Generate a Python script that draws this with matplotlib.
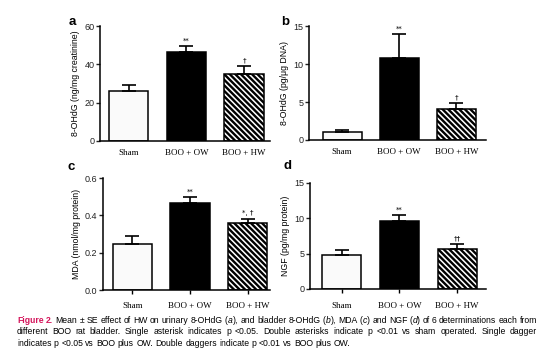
import matplotlib
matplotlib.use('Agg')
import matplotlib.pyplot as plt

# data (mean and SE)
groups = ['Sham', 'BOO + OW', 'BOO + HW']

ohdg_urine = [26.2, 46.6, 35.0]
ohdg_urine_err = [3.0, 3.0, 4.1]
ohdg_urine_sig = ['', '**', '†']

ohdg_bladder = [1.1, 10.8, 4.07]
ohdg_bladder_err = [0.2, 3.2, 0.83]
ohdg_bladder_sig = ['', '**', '†']

mda = [0.244, 0.468, 0.358]
mda_err = [0.044, 0.029, 0.025]
mda_sig = ['', '**', '*, †']

ngf = [4.85, 9.57, 5.66]
ngf_err = [0.61, 0.93, 0.71]
ngf_sig = ['', '**', '††']

W, H = 554, 357
plt.rcParams['font.family'] = ['Liberation Sans', 'DejaVu Sans']
plt.rcParams['hatch.linewidth'] = 1.7

fig = plt.figure(figsize=(W / 100, H / 100), dpi=100)


def px_axes(l, r, t, b):
    return fig.add_axes([l / W, 1 - b / H, (r - l) / W, (b - t) / H])


def panel(ax, vals, errs, sig, ymax, yticks, fmt, ylabel, xlim, show_xticks):
    x = list(range(len(vals)))
    fills = ['#fafafa', 'black', 'white']
    hatches = [None, None, '\\' * 6]
    for i in x:
        ax.bar(i, vals[i], width=0.68, color=fills[i], edgecolor='black',
               linewidth=1.1, hatch=hatches[i], zorder=2)
        ax.errorbar(i, vals[i], yerr=[[0], [errs[i]]], color='black', capsize=5,
                    elinewidth=1.2, capthick=1.2, zorder=3)
        if sig[i]:
            ax.text(i, vals[i] + errs[i] + ymax * 0.02, sig[i], ha='center',
                    va='bottom', fontsize=5, family=['DejaVu Sans'])
    ax.set_xlim(*xlim)
    ax.set_ylim(0, ymax)
    ax.set_yticks(yticks)
    ax.set_yticklabels([fmt.format(t) for t in yticks])
    ax.tick_params(axis='y', labelsize=6.5, length=3, width=1, pad=1, colors='#222222')
    ax.set_xticks(x)
    ax.set_xticklabels(groups, family='Liberation Serif', fontsize=6.5)
    ax.tick_params(axis='x', length=3 if show_xticks else 0, width=1, pad=6)
    for s in ['top', 'right']:
        ax.spines[s].set_visible(False)
    for s in ['left', 'bottom']:
        ax.spines[s].set_linewidth(1.1)
    ax.set_ylabel(ylabel, fontsize=6.3, labelpad=3)


ax_a = px_axes(100, 270, 26, 141)
panel(ax_a, ohdg_urine, ohdg_urine_err, ohdg_urine_sig, 60, [0, 20, 40, 60], '{:g}',
      '8-OHdG (ng/mg creatinine)', (-0.5, 2.45), False)

ax_b = px_axes(309, 486, 26, 140)
panel(ax_b, ohdg_bladder, ohdg_bladder_err, ohdg_bladder_sig, 15, [0, 5, 10, 15], '{:g}',
      '8-OHdG (pg/μg DNA)', (-0.58, 2.52), False)

ax_c = px_axes(103, 270, 178, 290)
panel(ax_c, mda, mda_err, mda_sig, 0.6, [0.0, 0.2, 0.4, 0.6], '{:.1f}',
      'MDA (nmol/mg protein)', (-0.51, 2.39), True)

ax_d = px_axes(310, 486, 183, 289)
panel(ax_d, ngf, ngf_err, ngf_sig, 15, [0, 5, 10, 15], '{:g}',
      'NGF (pg/mg protein)', (-0.55, 2.5), True)

for letter, lx, ly in [('a', 72, 22), ('b', 285, 22), ('c', 71, 167), ('d', 288, 166)]:
    fig.text(lx / W, 1 - ly / H, letter, fontsize=9.5, fontweight='bold',
             ha='center', va='center')

# caption: words made of styled pieces, first two lines justified
red = '#d4145a'
cap_lines = [
    [('Figure 2.', red, 'normal', 'bold'), (' Mean ± SE effect of HW on urinary 8-OHdG (', 'k', 'normal', 'normal'),
     ('a', 'k', 'italic', 'normal'), ('), and bladder 8-OHdG (', 'k', 'normal', 'normal'),
     ('b', 'k', 'italic', 'normal'), ('), MDA (', 'k', 'normal', 'normal'), ('c', 'k', 'italic', 'normal'),
     (') and NGF (', 'k', 'normal', 'normal'), ('d', 'k', 'italic', 'normal'),
     (') of 6 determinations each from', 'k', 'normal', 'normal')],
    [('different BOO rat bladder. Single asterisk indicates p <0.05. Double asterisks indicate p <0.01 '
      'vs sham operated. Single dagger', 'k', 'normal', 'normal')],
    [('indicates p <0.05 vs BOO plus OW. Double daggers indicate p <0.01 vs BOO plus OW.',
      'k', 'normal', 'normal')],
]
cap_y = [323, 334.5, 346]
cap_left, cap_right = 17, 537
cap_size = 6.2

renderer = fig.canvas.get_renderer()
for li, (segs, yy) in enumerate(zip(cap_lines, cap_y)):
    # split into words, each word is a list of pieces
    words = [[]]
    for txt, col, style, weight in segs:
        parts = txt.split(' ')
        for k, p in enumerate(parts):
            if k > 0:
                words.append([])
            if p:
                words[-1].append((p, col, style, weight))
    words = [w for w in words if w]
    placed = []
    for w in words:
        pieces = []
        for p, col, style, weight in w:
            t = fig.text(0, 1 - yy / H, p, color=col, fontstyle=style, fontweight=weight,
                         fontsize=cap_size, va='baseline', ha='left')
            pieces.append((t, t.get_window_extent(renderer).width))
        placed.append(pieces)
    probe = fig.text(0, 0, 'a a', fontsize=cap_size)
    space = probe.get_window_extent(renderer).width
    probe.set_text('aa')
    space -= probe.get_window_extent(renderer).width
    probe.remove()
    total = sum(wd for pieces in placed for _, wd in pieces)
    if li < len(cap_lines) - 1 and len(placed) > 1:
        gap = (cap_right - cap_left - total) / (len(placed) - 1)
    else:
        gap = space
    xpix = cap_left
    for pieces in placed:
        for t, wd in pieces:
            t.set_x(xpix / W)
            xpix += wd
        xpix += gap

fig.savefig('out.png', dpi=100)
